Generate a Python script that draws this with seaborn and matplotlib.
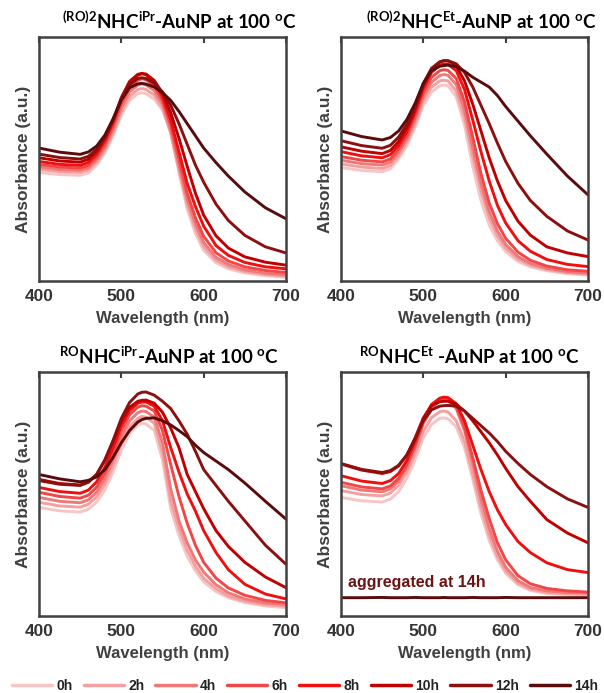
import pandas as pd
import seaborn as sns
import matplotlib.pyplot as plt
import numpy as np

wl = [400, 425, 450, 460, 470, 480, 490, 500, 510, 520, 525, 530, 540, 550, 560, 570, 580, 590, 600, 615, 630, 650, 675, 700]
times = ['0h', '2h', '4h', '6h', '8h', '10h', '12h', '14h']
colors = ['#f8c4c4', '#f4a0a0', '#f07878', '#f04848', '#ee1010', '#c00000', '#8b1010', '#5a0c0c']

# (RO)2NHC-iPr, rows = times
ro2_ipr = [
    [.445, .436, .433, .443, .475, .525, .595, .68, .74, .768, .772, .768, .745, .70, .61, .445, .295, .195, .125, .075, .05, .033, .022, .015],
    [.458, .448, .445, .455, .487, .537, .607, .695, .757, .785, .789, .785, .762, .71, .605, .455, .315, .215, .14, .085, .058, .039, .027, .02],
    [.468, .457, .454, .464, .497, .548, .62, .71, .775, .803, .808, .804, .78, .725, .62, .475, .335, .235, .158, .097, .068, .046, .032, .025],
    [.478, .467, .463, .474, .508, .56, .634, .727, .793, .823, .829, .825, .80, .74, .64, .50, .36, .26, .183, .116, .082, .058, .043, .035],
    [.49, .478, .474, .486, .52, .575, .65, .745, .812, .843, .849, .845, .815, .755, .66, .53, .40, .305, .225, .145, .105, .076, .058, .05],
    [.505, .492, .487, .499, .532, .586, .66, .752, .818, .847, .851, .848, .822, .77, .69, .585, .47, .36, .27, .185, .135, .099, .077, .065],
    [.52, .506, .50, .511, .54, .59, .66, .745, .805, .83, .833, .83, .81, .775, .72, .645, .56, .475, .405, .315, .248, .187, .14, .115],
    [.545, .528, .519, .529, .553, .598, .665, .742, .792, .808, .81, .807, .795, .772, .74, .695, .645, .595, .545, .485, .43, .365, .30, .255],
]

# (RO)2NHC-Et
ro2_et = [
    [.465, .453, .448, .46, .50, .555, .63, .72, .775, .80, .803, .80, .755, .64, .47, .33, .23, .165, .12, .08, .058, .042, .03, .024],
    [.48, .467, .461, .473, .513, .568, .645, .738, .795, .82, .823, .82, .778, .67, .51, .37, .26, .185, .135, .09, .065, .047, .034, .028],
    [.495, .481, .475, .487, .527, .583, .662, .757, .815, .842, .846, .843, .805, .70, .545, .40, .285, .205, .15, .10, .072, .052, .038, .032],
    [.51, .495, .488, .50, .54, .597, .677, .773, .835, .862, .866, .863, .83, .735, .59, .44, .32, .235, .175, .118, .085, .061, .046, .04],
    [.53, .513, .505, .518, .556, .612, .693, .79, .855, .885, .89, .888, .862, .785, .66, .53, .41, .31, .238, .165, .122, .088, .068, .059],
    [.55, .532, .522, .535, .572, .628, .707, .802, .868, .898, .903, .902, .882, .82, .725, .615, .505, .41, .33, .245, .188, .14, .115, .10],
    [.575, .555, .544, .556, .59, .643, .718, .81, .872, .898, .903, .903, .89, .855, .795, .72, .645, .565, .49, .40, .33, .265, .205, .168],
    [.615, .592, .578, .588, .615, .662, .728, .81, .862, .88, .883, .885, .878, .86, .835, .815, .795, .76, .715, .655, .595, .52, .43, .353],
]

# RONHC-iPr
ro_ipr = [
    [.445, .431, .426, .438, .467, .517, .59, .68, .748, .783, .79, .787, .76, .64, .44, .33, .245, .185, .14, .10, .075, .055, .041, .034],
    [.466, .451, .446, .458, .488, .54, .615, .707, .775, .81, .818, .815, .79, .67, .47, .36, .27, .205, .155, .112, .082, .061, .047, .04],
    [.486, .47, .464, .476, .507, .562, .64, .733, .80, .833, .84, .838, .815, .71, .52, .39, .30, .23, .18, .128, .095, .07, .054, .047],
    [.507, .49, .483, .495, .528, .585, .665, .76, .825, .856, .862, .86, .84, .76, .62, .49, .38, .29, .22, .155, .115, .085, .064, .054],
    [.527, .51, .503, .516, .55, .61, .69, .782, .842, .872, .877, .877, .86, .80, .69, .59, .50, .43, .35, .26, .19, .13, .09, .07],
    [.56, .543, .537, .55, .58, .638, .715, .80, .855, .88, .884, .885, .872, .835, .77, .69, .58, .51, .44, .35, .285, .22, .16, .116],
    [.555, .54, .535, .548, .58, .64, .72, .81, .875, .91, .917, .918, .905, .88, .85, .80, .745, .675, .60, .535, .47, .39, .29, .212],
    [.58, .562, .55, .556, .57, .60, .65, .71, .76, .795, .805, .81, .812, .80, .783, .76, .735, .70, .67, .635, .60, .545, .47, .397],
]

# RONHC-Et (aggregated at 14h -> flat trace)
ro_et = [
    [.486, .472, .467, .479, .51, .565, .64, .73, .785, .81, .812, .808, .775, .69, .56, .42, .31, .23, .175, .128, .105, .092, .087, .084],
    [.514, .498, .492, .504, .535, .59, .665, .757, .813, .837, .84, .836, .80, .715, .585, .445, .33, .245, .185, .135, .11, .097, .091, .09],
    [.534, .516, .509, .521, .553, .61, .69, .787, .85, .882, .887, .884, .85, .76, .625, .48, .36, .265, .20, .145, .117, .103, .096, .094],
    [.548, .529, .521, .533, .564, .62, .70, .797, .86, .89, .893, .89, .858, .775, .65, .515, .40, .30, .23, .165, .132, .113, .103, .098],
    [.575, .553, .543, .555, .584, .638, .715, .808, .867, .893, .897, .895, .87, .80, .70, .60, .51, .435, .375, .305, .26, .218, .19, .178],
    [.623, .598, .584, .592, .615, .66, .73, .812, .862, .878, .88, .88, .868, .84, .80, .755, .71, .66, .605, .53, .47, .395, .34, .30],
    [.625, .601, .588, .596, .618, .66, .725, .80, .845, .86, .862, .863, .86, .84, .81, .78, .75, .715, .675, .625, .58, .53, .48, .445],
    [.075, .075, .076, .075, .075, .075, .076, .075, .075, .075, .076, .075, .075, .075, .076, .075, .075, .075, .076, .075, .075, .075, .075, .075],
]

titles = [
    r'$^{(RO)2}$NHC$^{iPr}$-AuNP at 100 $^{o}$C',
    r'$^{(RO)2}$NHC$^{Et}$-AuNP at 100 $^{o}$C',
    r'$^{RO}$NHC$^{iPr}$-AuNP at 100 $^{o}$C',
    r'$^{RO}$NHC$^{Et}$ -AuNP at 100 $^{o}$C',
]

sns.set_style('white')
plt.rcParams['font.family'] = ['Liberation Sans', 'DejaVu Sans']
plt.rcParams['mathtext.default'] = 'regular'


def to_long(rows):
    frames = []
    for t, vals in zip(times, rows):
        frames.append(pd.DataFrame({'wl': wl, 'A': vals, 'time': t}))
    return pd.concat(frames, ignore_index=True)


fig = plt.figure(figsize=(6.04, 6.93), dpi=100)
W, H = 604, 693
boxes = [(39, 37), (341, 37), (39, 372), (341, 372)]  # left, top in px
aw, ah = 247, 244
panels = [ro2_ipr, ro2_et, ro_ipr, ro_et]
title_x = [0.57, 0.57, 0.525, 0.52]

for i, (rows, (l, t)) in enumerate(zip(panels, boxes)):
    ax = fig.add_axes([l / W, 1 - (t + ah) / H, aw / W, ah / H])
    sns.lineplot(data=to_long(rows), x='wl', y='A', hue='time', hue_order=times,
                 palette=colors, linewidth=2.1, legend=False, ax=ax)
    ax.set_xlim(400, 700)
    ax.set_ylim(0, 1.0)
    ax.set_xticks([400, 500, 600, 700])
    ax.set_yticks([])
    ax.tick_params(axis='x', direction='in', top=True, length=4, width=1.5,
                   color='#404040', labelsize=12.5, labelcolor='#333333', pad=6)
    for lab in ax.get_xticklabels():
        lab.set_fontweight('bold')
    for s in ax.spines.values():
        s.set_color('#404040')
        s.set_linewidth(1.8)
    ax.set_xlabel('Wavelength (nm)', fontsize=12, fontweight='bold', color='#404040', labelpad=5)
    ax.set_ylabel('Absorbance (a.u.)', fontsize=12.5, fontweight='bold', color='#404040', labelpad=6)
    ax.set_title(titles[i], x=title_x[i], fontsize=13.5, fontweight='bold', family='Lato', pad=6, color='black')
    if i == 3:
        ax.text(409, 0.137, 'aggregated at 14h', fontsize=11.5, fontweight='bold',
                color='#6b1414', va='center')

handles = [plt.Line2D([], [], color=c, linewidth=2.5) for c in colors]
leg = fig.legend(handles, times, loc='center', bbox_to_anchor=(0.505, 0.0105), ncol=8,
                 frameon=False, handlelength=2.9, handletextpad=0.3, columnspacing=0.8,
                 borderpad=0.1, prop={'weight': 'bold', 'size': 10})
for txt in leg.get_texts():
    txt.set_color('#222222')

fig.savefig('out.png', dpi=100)
